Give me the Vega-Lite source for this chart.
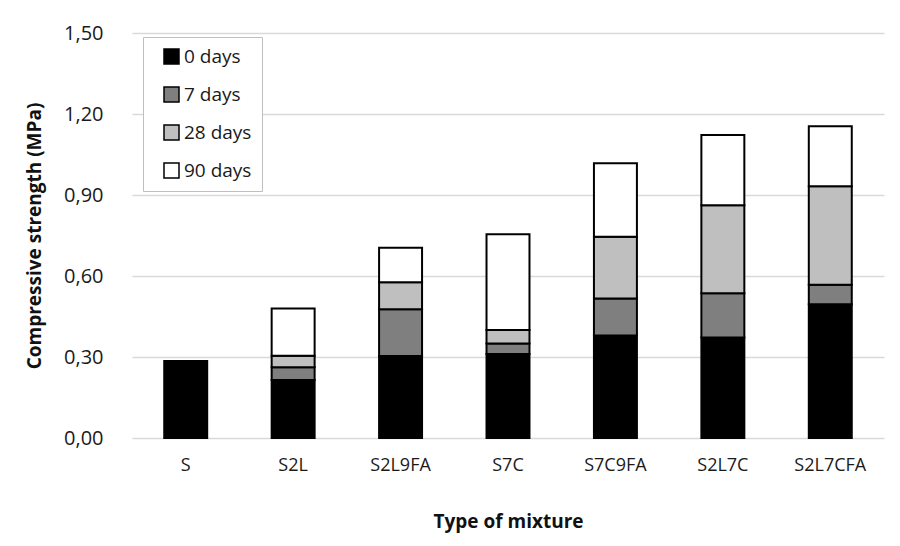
{
  "$schema": "https://vega.github.io/schema/vega-lite/v6.json",
  "width": 752,
  "height": 405,
  "autosize": {"type": "none"},
  "padding": {"left": 132, "top": 33, "right": 16, "bottom": 108},
  "background": "white",
  "data": {
    "values": [
      {"mixture": "S", "age": "0 days", "days": 0, "strength": 0.285},
      {"mixture": "S2L", "age": "0 days", "days": 0, "strength": 0.215},
      {"mixture": "S2L", "age": "7 days", "days": 7, "strength": 0.047},
      {"mixture": "S2L", "age": "28 days", "days": 28, "strength": 0.043},
      {"mixture": "S2L", "age": "90 days", "days": 90, "strength": 0.175},
      {"mixture": "S2L9FA", "age": "0 days", "days": 0, "strength": 0.304},
      {"mixture": "S2L9FA", "age": "7 days", "days": 7, "strength": 0.173},
      {"mixture": "S2L9FA", "age": "28 days", "days": 28, "strength": 0.1},
      {"mixture": "S2L9FA", "age": "90 days", "days": 90, "strength": 0.128},
      {"mixture": "S7C", "age": "0 days", "days": 0, "strength": 0.311},
      {"mixture": "S7C", "age": "7 days", "days": 7, "strength": 0.039},
      {"mixture": "S7C", "age": "28 days", "days": 28, "strength": 0.05},
      {"mixture": "S7C", "age": "90 days", "days": 90, "strength": 0.355},
      {"mixture": "S7C9FA", "age": "0 days", "days": 0, "strength": 0.38},
      {"mixture": "S7C9FA", "age": "7 days", "days": 7, "strength": 0.137},
      {"mixture": "S7C9FA", "age": "28 days", "days": 28, "strength": 0.228},
      {"mixture": "S7C9FA", "age": "90 days", "days": 90, "strength": 0.273},
      {"mixture": "S2L7C", "age": "0 days", "days": 0, "strength": 0.372},
      {"mixture": "S2L7C", "age": "7 days", "days": 7, "strength": 0.164},
      {"mixture": "S2L7C", "age": "28 days", "days": 28, "strength": 0.326},
      {"mixture": "S2L7C", "age": "90 days", "days": 90, "strength": 0.26},
      {"mixture": "S2L7CFA", "age": "0 days", "days": 0, "strength": 0.495},
      {"mixture": "S2L7CFA", "age": "7 days", "days": 7, "strength": 0.073},
      {"mixture": "S2L7CFA", "age": "28 days", "days": 28, "strength": 0.364},
      {"mixture": "S2L7CFA", "age": "90 days", "days": 90, "strength": 0.223}
    ]
  },
  "mark": {"type": "bar", "stroke": "black", "strokeWidth": 2},
  "encoding": {
    "x": {
      "field": "mixture",
      "type": "nominal",
      "sort": ["S", "S2L", "S2L9FA", "S7C", "S7C9FA", "S2L7C", "S2L7CFA"],
      "scale": {"paddingInner": 0.6, "paddingOuter": 0.3},
      "axis": {
        "title": "Type of mixture",
        "labelAngle": 0,
        "labelFontSize": 18,
        "ticks": false,
        "domain": false,
        "labelPadding": 18,
        "titlePadding": 38
      }
    },
    "y": {
      "field": "strength",
      "type": "quantitative",
      "stack": "zero",
      "scale": {"domain": [0, 1.5], "nice": false},
      "axis": {
        "title": "Compressive strength (MPa)",
        "values": [0, 0.3, 0.6, 0.9, 1.2, 1.5],
        "labelExpr": "replace(format(datum.value, '.2f'), '.', ',')",
        "labelFontSize": 20,
        "ticks": false,
        "domain": false,
        "grid": true,
        "labelPadding": 29,
        "titlePadding": 19
      }
    },
    "color": {
      "field": "age",
      "type": "nominal",
      "sort": ["0 days", "7 days", "28 days", "90 days"],
      "scale": {
        "domain": ["0 days", "7 days", "28 days", "90 days"],
        "range": ["#000000", "#7f7f7f", "#bfbfbf", "#ffffff"]
      },
      "legend": {
        "title": null,
        "orient": "none",
        "legendX": 11,
        "legendY": 4,
        "padding": 10,
        "strokeColor": "#bfbfbf",
        "fillColor": "white",
        "symbolType": "square",
        "symbolSize": 225,
        "symbolOffset": 9,
        "symbolStrokeColor": "black",
        "symbolStrokeWidth": 1.5,
        "labelOffset": 3,
        "rowPadding": 17,
        "labelFontSize": 19,
        "labelFont": "Open Sans",
        "labelColor": "#1a1a1a"
      }
    },
    "order": {"field": "days", "type": "quantitative", "sort": "ascending"}
  },
  "config": {
    "view": {"stroke": null},
    "axis": {
      "labelFont": "Open Sans",
      "titleFont": "Open Sans",
      "titleFontSize": 19,
      "labelColor": "#1a1a1a",
      "titleColor": "#111",
      "titleFontWeight": "bold",
      "gridColor": "#d9d9d9",
      "gridWidth": 1.5
    }
  }
}
